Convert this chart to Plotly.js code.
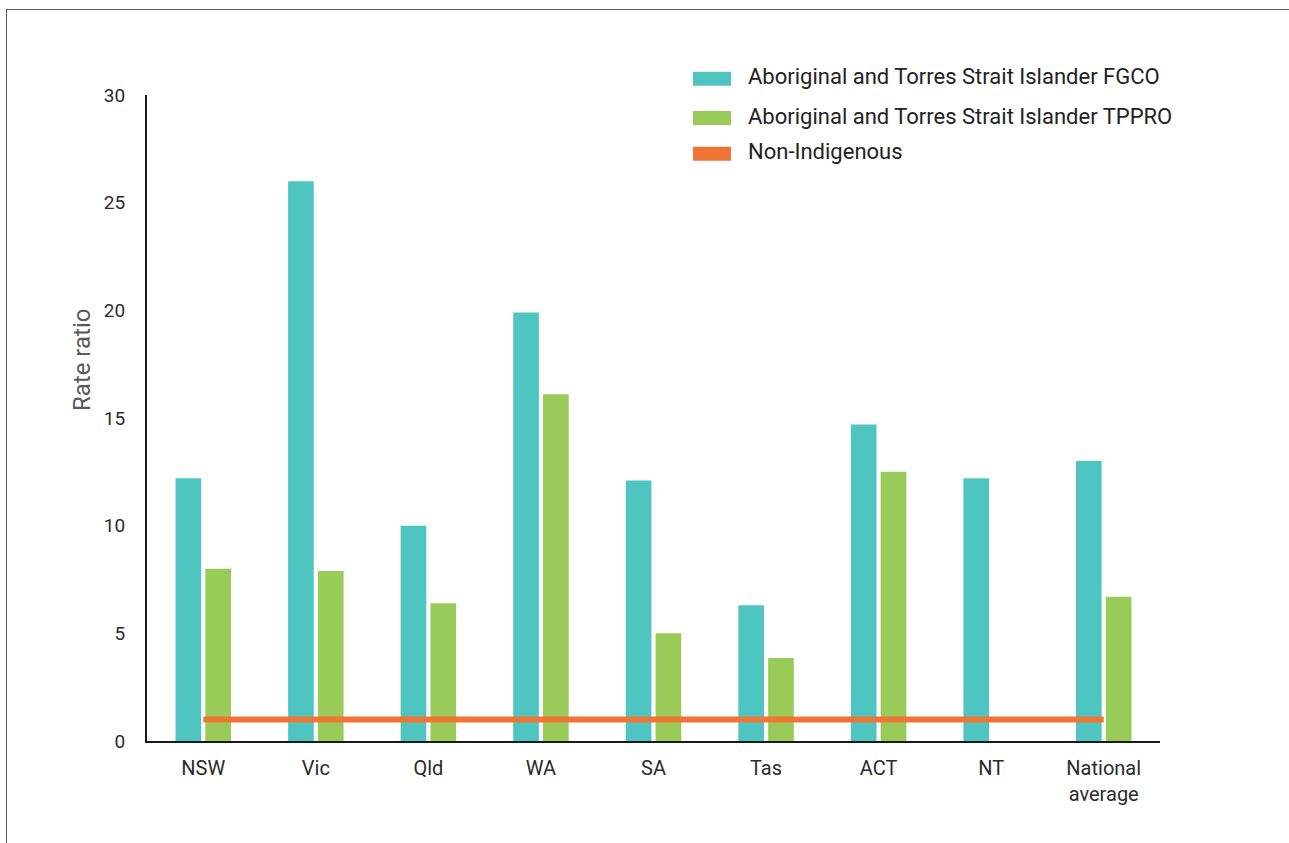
<!DOCTYPE html>
<html>
<head>
<meta charset="utf-8">
<script src="https://cdn.plot.ly/plotly-3.0.1.min.js"></script>
<style>
  html, body { margin: 0; padding: 0; background: #fff; }
  #wrap { position: relative; width: 1289px; height: 843px; overflow: hidden; }
  #chart { position: absolute; left: 0; top: 0; width: 1289px; height: 843px; }
  #frame { position: absolute; left: 6px; top: 9px; width: 1400px; height: 900px;
           border-left: 1.4px solid #5f5f5f; border-top: 1.4px solid #5f5f5f; pointer-events: none; }
</style>
</head>
<body>
<div id="wrap">
  <div id="chart"></div>
  <div id="frame"></div>
</div>
<script>
// ---- Data ----
const categories = ["NSW", "Vic", "Qld", "WA", "SA", "Tas", "ACT", "NT", "National<br>average"];
const fgco  = [12.2, 26.0, 10.0, 19.9, 12.1, 6.3, 14.7, 12.2, 13.0];
const tppro = [8.0, 7.9, 6.4, 16.1, 5.0, 3.85, 12.5, null, 6.7];
const nonIndigenous = [1, 1, 1, 1, 1, 1, 1, 1, 1];
const seriesNames = [
  "Aboriginal and Torres Strait Islander FGCO",
  "Aboriginal and Torres Strait Islander TPPRO",
  "Non-Indigenous"
];
const yTicks = [0, 5, 10, 15, 20, 25, 30];

const colors = ["#4ec5c1", "#98cb57", "#f07535"];

const traces = [
  { type: "bar", x: categories, y: fgco, name: seriesNames[0], marker: { color: colors[0] }, hoverinfo: "x+y" },
  { type: "bar", x: categories, y: tppro, name: seriesNames[1], marker: { color: colors[1] }, hoverinfo: "x+y" },
  { type: "scatter", mode: "lines", x: categories, y: nonIndigenous, name: seriesNames[2],
    line: { color: colors[2], width: 6 }, hoverinfo: "x+y" }
];

// Manual legend (wide swatches like the original)
const legendRowsY = [1.0252, 0.9644, 0.9091];
const shapes = [];
const annotations = [];
seriesNames.forEach((n, i) => {
  shapes.push({ type: "rect", xref: "paper", yref: "paper",
    x0: 0.539, x1: 0.5765, y0: legendRowsY[i] - 0.0108, y1: legendRowsY[i] + 0.0108,
    fillcolor: colors[i], line: { width: 0 } });
  annotations.push({ xref: "paper", yref: "paper", x: 0.5913, y: legendRowsY[i] + 0.003,
    xanchor: "left", yanchor: "middle", showarrow: false, text: n,
    font: { family: "Roboto, sans-serif", size: 22, color: "#222" } });
});
annotations.push({ xref: "paper", yref: "paper", x: -0.064, y: 0.59, xanchor: "center", yanchor: "middle",
  textangle: -90, showarrow: false, text: "Rate ratio",
  font: { family: "Roboto, sans-serif", size: 24, color: "#595959" } });

const layout = {
  width: 1289, height: 843,
  margin: { l: 147, r: 129, t: 95, b: 102, pad: 0 },
  paper_bgcolor: "#ffffff", plot_bgcolor: "#ffffff",
  showlegend: false,
  barmode: "group",
  bargap: 0.47,
  bargroupgap: 0.14,
  font: { family: "Roboto, sans-serif", color: "#333" },
  xaxis: {
    type: "category",
    showline: true, linecolor: "#1a1a1a", linewidth: 2,
    showgrid: false, zeroline: false, ticks: "",
    ticklabelstandoff: 8,
    tickfont: { family: "Roboto, sans-serif", size: 20, color: "#2b2b2b" }
  },
  yaxis: {
    range: [0, 30], tickvals: yTicks, ticktext: yTicks.map(String),
    showline: true, linecolor: "#1a1a1a", linewidth: 2,
    showgrid: false, zeroline: false, ticks: "",
    ticklabelstandoff: 16,
    tickfont: { family: "Roboto, sans-serif", size: 19, color: "#2b2b2b" }
  },
  shapes: shapes,
  annotations: annotations
};

Plotly.newPlot("chart", traces, layout, { displayModeBar: false, staticPlot: true });
</script>
</body>
</html>
